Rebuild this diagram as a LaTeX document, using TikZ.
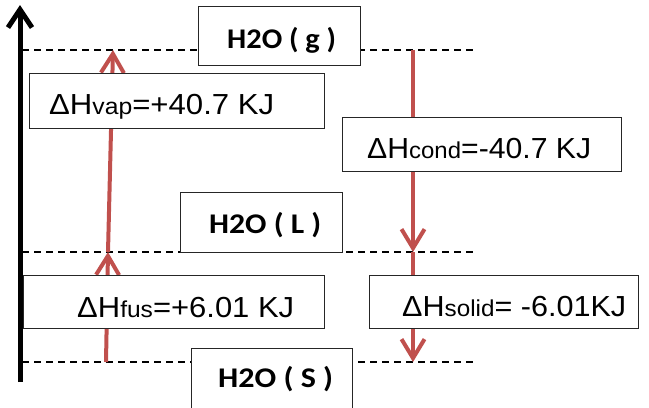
\documentclass[tikz,border=0pt]{standalone}
\usepackage{fontspec}
\setmainfont{Liberation Sans}
\newfontfamily\phasefont{Carlito}
\usetikzlibrary{arrows.meta}
\definecolor{arrowred}{RGB}{192,80,77}
% enthalpy label: subscript name, value, printed width
\newcommand\enth[3]{\resizebox{#3}{\height}{\fontsize{29bp}{29bp}\selectfont ΔH{\fontsize{23bp}{23bp}\selectfont #1}#2}}
% phase label: text, printed width
\newcommand\phaselab[2]{\resizebox{#2}{\height}{\phasefont\bfseries\fontsize{28.5bp}{28.5bp}\selectfont #1}}
\begin{document}
\begin{tikzpicture}[x=1bp,y=-1bp,
  level/.style={dashed,dash pattern=on 7bp off 5bp,line width=1.4bp},
  axisline/.style={line width=5bp,-{Straight Barb[length=18bp,width=24bp]}},
  change/.style={arrowred,line width=4bp,-{Straight Barb[length=19bp,width=23bp]}},
  framebox/.style={draw=black!85,line width=1bp,fill=white,inner sep=0pt},
  phase/.style={anchor=base west,inner sep=0pt},
  value/.style={anchor=base west,inner sep=0pt}]
\useasboundingbox (0,0) rectangle (649,407);

% energy levels
\coordinate (gL) at (22,50);  \coordinate (gR) at (476,50);
\coordinate (lL) at (22,252); \coordinate (lR) at (476,252);
\coordinate (sL) at (22,362); \coordinate (sR) at (476,362);
\draw[level] (gL) -- (gR);
\draw[level] (lL) -- (lR);
\draw[level] (sL) -- (sR);

% energy axis
\coordinate (axB) at (20,382);
\coordinate (axT) at (20,5);
\draw[axisline] (axB) -- (axT);

% heating path
\coordinate (h1) at (106,362);
\coordinate (h2) at (108,252);
\coordinate (h3) at (113,50);
\draw[change] (h1) -- (h2);
\draw[change] (h2) -- (h3);

% cooling path
\coordinate (c1) at (413,50);
\coordinate (c2) at (413,252);
\coordinate (c3) at (413,362);
\draw[change] (c1) -- (c2);
\draw[change] (c2) -- (c3);

% boxes
\node[framebox,minimum width=162bp,minimum height=59bp] (gbox) at (279,35.5) {};
\node[framebox,minimum width=294bp,minimum height=55bp] (vapbox) at (177,100.5) {};
\node[framebox,minimum width=279bp,minimum height=54bp] (condbox) at (481.5,144) {};
\node[framebox,minimum width=162bp,minimum height=60bp] (lbox) at (261,222) {};
\node[framebox,minimum width=300bp,minimum height=53bp] (fusbox) at (174,301.5) {};
\node[framebox,minimum width=269bp,minimum height=53bp] (solidbox) at (503.5,301.5) {};
\node[framebox,minimum width=161bp,minimum height=72bp] (sbox) at (271.5,384) {};

% labels
\node[phase] (gtxt) at (227,48) {\phaselab{H2O ( g )}{109bp}};
\node[phase] (ltxt) at (209,233) {\phaselab{H2O ( L )}{112bp}};
\node[phase] (stxt) at (218,387) {\phaselab{H2O ( S )}{115bp}};
\node[value] (vaptxt) at (49,114.5) {\enth{vap}{=+40.7 KJ}{225bp}};
\node[value] (condtxt) at (367,158.5) {\enth{cond}{=-40.7 KJ}{224bp}};
\node[value] (fustxt) at (77,317) {\enth{fus}{=+6.01 KJ}{217bp}};
\node[value] (solidtxt) at (402,316) {\enth{solid}{= -6.01KJ}{224bp}};
\end{tikzpicture}
\end{document}
